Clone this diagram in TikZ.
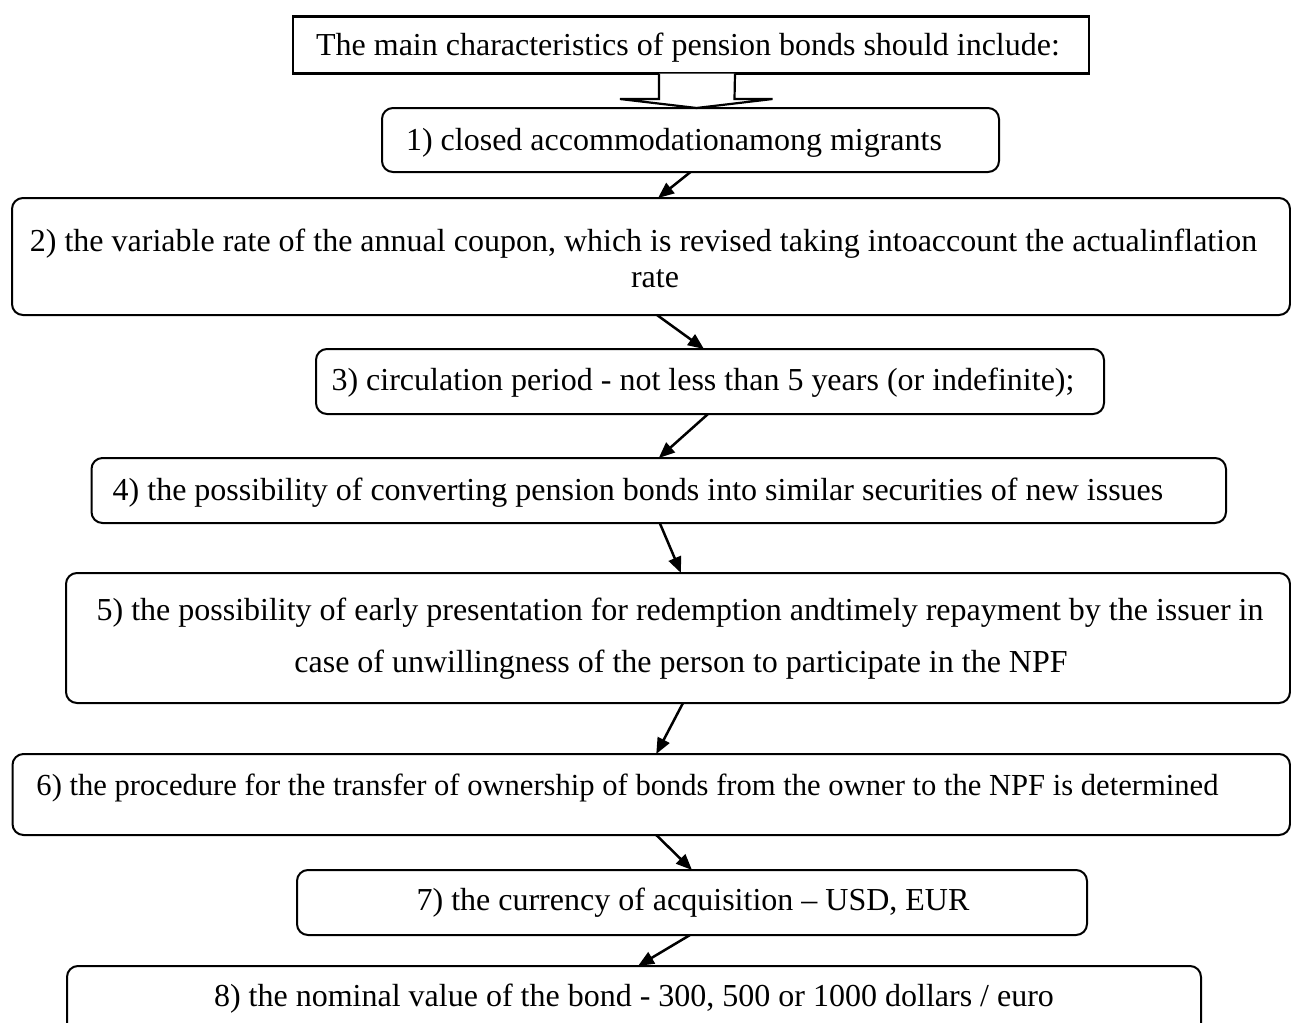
\documentclass[tikz,border=0pt]{standalone}
\usepackage{fontspec}
\setmainfont{Liberation Serif}
\usetikzlibrary{arrows.meta,calc}
\begin{document}
\begin{tikzpicture}[x=1pt,y=-1pt,
  boxr/.style={draw, line width=2pt, rounded corners=11pt, inner sep=0pt, outer sep=0pt},
  boxs/.style={draw, line width=2.3pt, inner sep=0pt, outer sep=0pt},
  txt/.style={anchor=base, inner sep=0pt, font=\fontsize{32}{36}\selectfont},
  txts/.style={anchor=base, inner sep=0pt, font=\fontsize{30.6}{36}\selectfont},
  link/.style={line width=2.5pt, -{Triangle[length=16pt,width=13pt]}},
  hollow/.style={line width=2.2pt, line join=miter, fill=white}]
\useasboundingbox (0,0) rectangle (1291,1023);

% boxes
\node[boxs, minimum width=796pt, minimum height=57pt] (T) at (691,45) {};
\node[boxr, minimum width=617pt, minimum height=64pt] (B1) at (690.5,140) {};
\node[boxr, minimum width=1278pt, minimum height=117pt] (B2) at (651,256.5) {};
\node[boxr, minimum width=788pt, minimum height=65pt] (B3) at (710,381.5) {};
\node[boxr, minimum width=1134.5pt, minimum height=65pt] (B4) at (658.75,490.5) {};
\node[boxr, minimum width=1224pt, minimum height=130pt] (B5) at (678,638) {};
\node[boxr, minimum width=1277.5pt, minimum height=81pt] (B6) at (651.25,794.5) {};
\node[boxr, minimum width=790pt, minimum height=65pt] (B7) at (692,902.5) {};
\node[boxr, minimum width=1134pt, minimum height=94pt] (B8) at (634,1013) {};

% texts
\node[txt] (t0) at (688,55) {The main characteristics of pension bonds should include:};
\node[txt] (t1) at (674,150) {1) closed accommodationamong migrants};
\node[txt] (t2) at (643.5,251.5) {2) the variable rate of the annual coupon, which is revised taking intoaccount the actualinflation};
\node[txt] (t2b) at (655,287) {rate};
\node[txt] (t3) at (703,390) {3) circulation period - not less than 5 years (or indefinite);};
\node[txt] (t4) at (638,500.5) {4) the possibility of converting pension bonds into similar securities of new issues};
\node[txt] (t5) at (680,620) {5) the possibility of early presentation for redemption andtimely repayment by the issuer in};
\node[txt] (t5b) at (681,672) {case of unwillingness of the person to participate in the NPF};
\node[txts] (t6) at (627.5,795) {6) the procedure for the transfer of ownership of bonds from the owner to the NPF is determined};
\node[txt] (t7) at (693,910) {7) the currency of acquisition -- USD, EUR};
\node[txt] (t8) at (634,1006) {8) the nominal value of the bond - 300, 500 or 1000 dollars / euro};

% hollow block arrow from title to box 1
\draw[hollow] ($(T.south)+(-32,0)$) -- ++(0,25.5) -- ++(-39,0)
  -- ($(B1.north)+(6,0)$) -- ++(76,-9) -- ++(-38,0) -- ($(T.south)+(44,0)$);

% connectors
\draw[link] (B1.south) -- ($(B2.north)+(7,0)$);
\draw[link] ($(B2.south)+(6,0)$) -- ($(B3.north)+(-6,0)$);
\draw[link] ($(B3.south)+(-2,0)$) -- (B4.north);
\draw[link] ($(B4.south)+(1,0)$) -- ($(B5.north)+(3,0)$);
\draw[link] ($(B5.south)+(5,0)$) -- ($(B6.north)+(5,0)$);
\draw[link] ($(B6.south)+(5,0)$) -- (B7.north);
\draw[link] ($(B7.south)+(-2,0)$) -- ($(B8.north)+(4,0)$);
\end{tikzpicture}
\end{document}
